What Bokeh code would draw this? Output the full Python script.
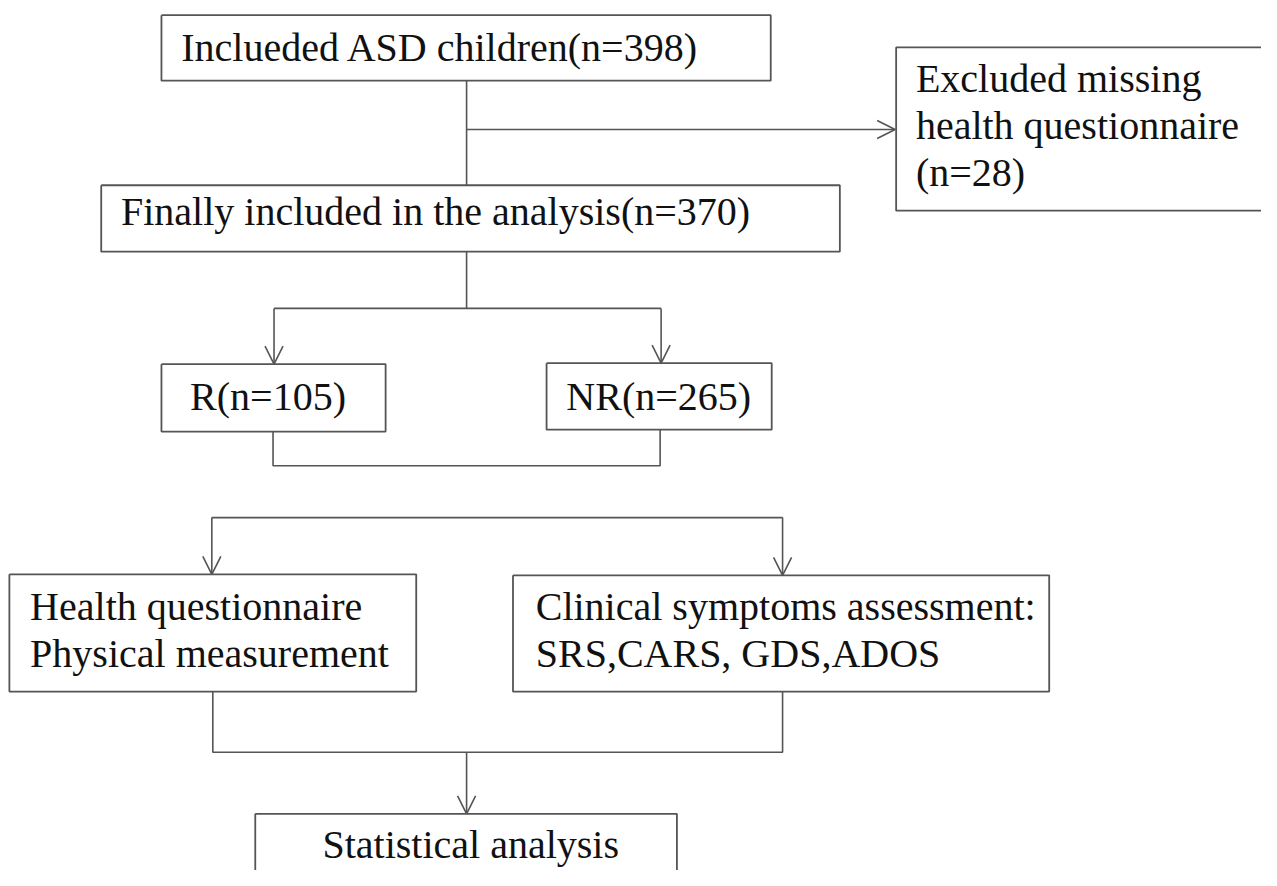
from bokeh.plotting import figure
from bokeh.models import Range1d, ColumnDataSource, Arrow, OpenHead
from bokeh.core.properties import value
from bokeh.embed import file_html
from bokeh.resources import INLINE

# ---- data (flowchart content) ----
n_included = 398
n_excluded = 28
n_final = 370
n_r = 105
n_nr = 265

box_labels = [
    [f"Inclueded ASD children(n={n_included})"],
    ["Excluded missing", "health questionnaire", f"(n={n_excluded})"],
    [f"Finally included in the analysis(n={n_final})"],
    [f"R(n={n_r})"],
    [f"NR(n={n_nr})"],
    ["Health questionnaire", "Physical measurement"],
    ["Clinical symptoms assessment:", "SRS,CARS, GDS,ADOS"],
    ["Statistical analysis"],
]

# ---- layout (reference pixel coordinates) ----
box_left   = [163, 907, 102, 163, 553,   9, 519, 258]
box_right  = [780, 1300, 850, 390, 781, 421, 1062, 685]
box_top    = [15,   48, 189, 372, 371, 587, 588, 832]
box_bottom = [82,  215, 257, 441, 439, 707, 707, 905]
box_closed = [True, False, True, True, True, True, True, True]
text_x     = [183, 927, 122, 192, 573,  30, 542, 326]
text_y0    = [63,   95, 231, 420, 420, 635, 635, 878]
line_step = 48
baseline_fix = -15

LINE = "#555555"
FONT = "Liberation Serif"

W, H = 1261, 870
p = figure(width=W, height=H, output_backend="svg", toolbar_location=None,
           x_range=Range1d(0, 1277), y_range=Range1d(890, 0),
           x_axis_type=None, y_axis_type=None, min_border=0,
           background_fill_color="white", border_fill_color="white")
p.outline_line_color = None
p.grid.visible = False

# boxes (outlines drawn as paths; the box running off the right edge has no right side)
bx, by = [], []
for l, r, t, b, closed in zip(box_left, box_right, box_top, box_bottom, box_closed):
    if closed:
        bx.append([l, r, r, l, l]); by.append([t, t, b, b, t])
    else:
        bx.append([r, l, l, r]); by.append([t, t, b, b])
p.multi_line(xs=bx, ys=by, line_color=LINE, line_width=1.8)

# plain connector lines
conn_xs = [
    [472, 472],
    [472, 472],
    [277, 669],
    [276, 276, 668, 668],
    [214, 792],
    [215, 215, 792, 792],
]
conn_ys = [
    [82, 189],
    [257, 315],
    [315, 315],
    [441, 476, 476, 439],
    [529, 529],
    [707, 769, 769, 707],
]
p.multi_line(xs=conn_xs, ys=conn_ys, line_color=LINE, line_width=1.6)

# arrows
arr = ColumnDataSource(dict(
    x0=[472, 277, 669, 214, 792, 472],
    y0=[132, 315, 315, 529, 529, 769],
    x1=[906, 277, 669, 214, 792, 472],
    y1=[132, 372, 371, 587, 588, 832],
))
p.add_layout(Arrow(end=OpenHead(size=18, line_color=LINE, line_width=1.6),
                   x_start="x0", y_start="y0", x_end="x1", y_end="y1",
                   source=arr, line_color=LINE, line_width=1.6))

# texts
tx, ty, tt = [], [], []
for lines, x, y0 in zip(box_labels, text_x, text_y0):
    for i, s in enumerate(lines):
        tx.append(x)
        ty.append(y0 + i * line_step + baseline_fix)
        tt.append(s)
p.text(x=tx, y=ty, text=tt, text_font=value(FONT), text_font_size="40px",
       text_color="#111111", text_align="left", text_baseline="alphabetic")

open("out.html", "w").write(file_html(p, INLINE))
